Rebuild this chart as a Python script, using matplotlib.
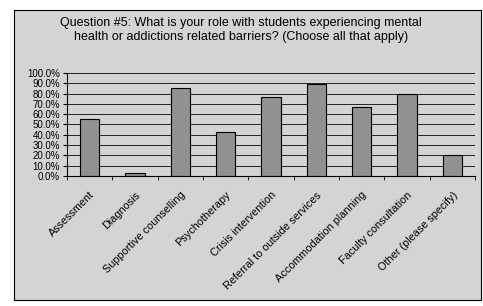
import matplotlib
matplotlib.use("Agg")
import matplotlib.pyplot as plt
from matplotlib.patches import Rectangle
from matplotlib.ticker import FuncFormatter, MultipleLocator
import numpy as np

plt.rcParams["font.family"] = ["Liberation Sans", "DejaVu Sans"]

categories = [
    "Assessment",
    "Diagnosis",
    "Supportive counselling",
    "Psychotherapy",
    "Crisis intervention",
    "Referral to outside services",
    "Accommodation planning",
    "Faculty consultation",
    "Other (please specify)",
]
percent = [55.3, 2.5, 85.0, 42.5, 77.0, 89.5, 66.7, 79.3, 20.0]
title = ("Question #5: What is your role with students experiencing mental\n"
         "health or addictions related barriers? (Choose all that apply)")

bg = "#d4d4d4"
bar_color = "#929292"

fig = plt.figure(figsize=(4.83, 3.06), dpi=100)
fig.patch.set_facecolor("white")
# chart area frame, kept behind the axes
fig.patches.append(Rectangle((14 / 483, 1 - 300 / 306), 467 / 483, 290 / 306,
                             transform=fig.transFigure, facecolor=bg,
                             edgecolor="black", linewidth=0.8, zorder=-5))

ax = fig.add_axes([67 / 483, 1 - 176 / 306, 408 / 483, 103 / 306])
ax.set_facecolor("none")

x = np.arange(len(categories))
ax.set_axisbelow(True)
ax.yaxis.grid(True, color="#222222", linewidth=0.7)
ax.bar(x, percent, width=0.42, color=bar_color, edgecolor="black", linewidth=0.8)

ax.set_xlim(-0.5, len(categories) - 0.5)
ax.set_ylim(0, 100)
ax.yaxis.set_major_locator(MultipleLocator(10))
ax.yaxis.set_major_formatter(FuncFormatter(lambda v, _: f"{v:.1f}%"))

ax.set_xticks(x)
ax.set_xticklabels(categories, rotation=45, ha="right", va="top",
                   rotation_mode="anchor", fontsize=7.8)
ax.set_xticks(np.arange(len(categories) + 1) - 0.5, minor=True)
ax.tick_params(axis="x", which="major", length=0, pad=10)
ax.tick_params(axis="x", which="minor", length=3, direction="out")
ax.tick_params(axis="y", length=3, direction="out", labelsize=7, pad=2)

for side in ("top", "right"):
    ax.spines[side].set_visible(False)
for side in ("left", "bottom"):
    ax.spines[side].set_linewidth(0.8)

fig.text(0.499, 1 - 30 / 306, title, ha="center", va="center",
         fontsize=9, linespacing=1.25)

fig.savefig("out.png", dpi=100)
